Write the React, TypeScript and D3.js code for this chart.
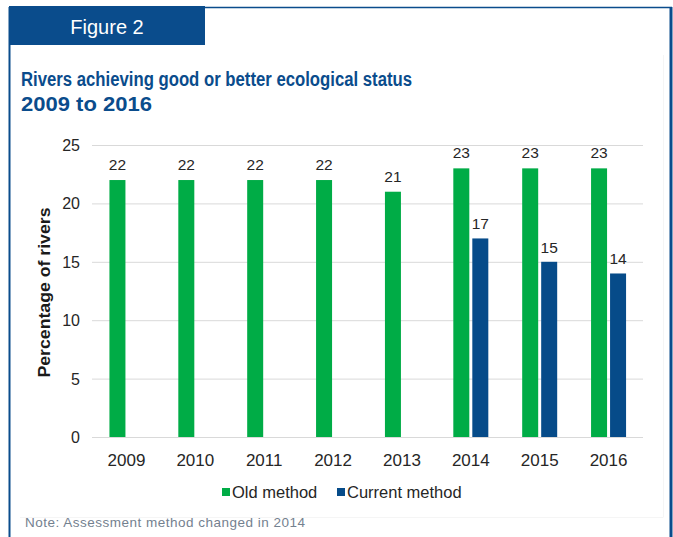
import React from "react";
import * as d3 from "d3";

const years = ["2009", "2010", "2011", "2012", "2013", "2014", "2015", "2016"];
const oldMethod: (number | null)[] = [22, 22, 22, 22, 21, 23, 23, 23];
const currentMethod: (number | null)[] = [null, null, null, null, null, 17, 15, 14];
const yTicks = [0, 5, 10, 15, 20, 25];
const seriesNames = ["Old method", "Current method"];

const W = 673;
const H = 537;
const GREEN = "#00ac46";
const BLUE = "#064b89";
const FRAME = "#0a4c8c";
const FONT = "'Liberation Sans', Arial, sans-serif";

export default function App() {
  const left = 92;
  const right = 643;
  const top = 145;
  const bottom = 437;
  const x = d3.scaleBand<string>().domain(years).range([left, right]).padding(0);
  const y = d3.scaleLinear().domain([0, 25]).range([bottom, top]);
  const barW = 16;
  const gap = 3;

  return (
    <svg width={W} height={H} style={{ position: "absolute", left: 0, top: 0, background: "#fff" }} fontFamily={FONT}>
      {/* frame */}
      <line x1={9.5} x2={9.5} y1={7} y2={H} stroke={FRAME} strokeWidth={2} />
      <line x1={9} x2={672} y1={7.5} y2={7.5} stroke={FRAME} strokeWidth={1.5} />
      <line x1={671} x2={671} y1={7} y2={H} stroke={FRAME} strokeWidth={3} />
      <rect x={9} y={6} width={196} height={39} fill={FRAME} />
      <text x={107} y={34} fill="#fff" fontSize={20} textAnchor="middle">Figure 2</text>
      {/* faint chart area */}
      <line x1={663.5} x2={663.5} y1={55} y2={517} stroke="#f5f5f5" />
      <line x1={20} x2={663.5} y1={517.5} y2={517.5} stroke="#f5f5f5" />

      <text x={21} y={86} fill={FRAME} fontSize={20} fontWeight="bold" textLength={391} lengthAdjust="spacingAndGlyphs">
        Rivers achieving good  or better ecological status
      </text>
      <text x={21} y={111} fill={FRAME} fontSize={20} fontWeight="bold" textLength={131} lengthAdjust="spacingAndGlyphs">
        2009 to 2016
      </text>

      {/* gridlines */}
      {yTicks.map((t) => (
        <g key={t}>
          <line x1={left} x2={right} y1={y(t) + 0.5} y2={y(t) + 0.5} stroke="#d9d9d9" strokeWidth={1} />
          <text x={80} y={y(t) + 6} fontSize={16} fill="#262626" textAnchor="end">{t}</text>
        </g>
      ))}

      {/* bars */}
      {years.map((yr, i) => {
        const c = x(yr)! + x.bandwidth() / 2;
        const o = oldMethod[i];
        const cu = currentMethod[i];
        const hasCur = cu !== null;
        const ox = hasCur ? c - gap / 2 - barW : c - barW / 2 - 9;
        const cx = c + gap / 2;
        return (
          <g key={yr}>
            {o !== null && (
              <>
                <rect x={ox} y={y(o)} width={barW} height={y(0) - y(o)} fill={GREEN} />
                <text x={ox + barW / 2} y={y(o) - 10} fontSize={15.5} fill="#262626" textAnchor="middle">{o}</text>
              </>
            )}
            {cu !== null && (
              <>
                <rect x={cx} y={y(cu)} width={barW} height={y(0) - y(cu)} fill={BLUE} />
                <text x={cx + barW / 2} y={y(cu) - 9} fontSize={15.5} fill="#262626" textAnchor="middle">{cu}</text>
              </>
            )}
            <text x={c} y={466} fontSize={17} fill="#262626" textAnchor="middle">{yr}</text>
          </g>
        );
      })}

      {/* y title */}
      <text transform={`translate(50,${(207 + 378) / 2}) rotate(-90)`} fontSize={16} fontWeight="bold" fill="#1a1a1a" textAnchor="middle" textLength={170} lengthAdjust="spacingAndGlyphs">
        Percentage of rivers
      </text>

      {/* legend */}
      <rect x={222} y={488} width={8} height={8} fill={GREEN} />
      <text x={232} y={498} fontSize={16.5} fill="#262626">{seriesNames[0]}</text>
      <rect x={337} y={488} width={8} height={8} fill={BLUE} />
      <text x={347} y={498} fontSize={16.5} fill="#262626">{seriesNames[1]}</text>

      <text x={25} y={527} fontSize={13.5} fill="#74818f" textLength={280} lengthAdjust="spacing">
        Note:  Assessment  method  changed  in 2014
      </text>
    </svg>
  );
}
